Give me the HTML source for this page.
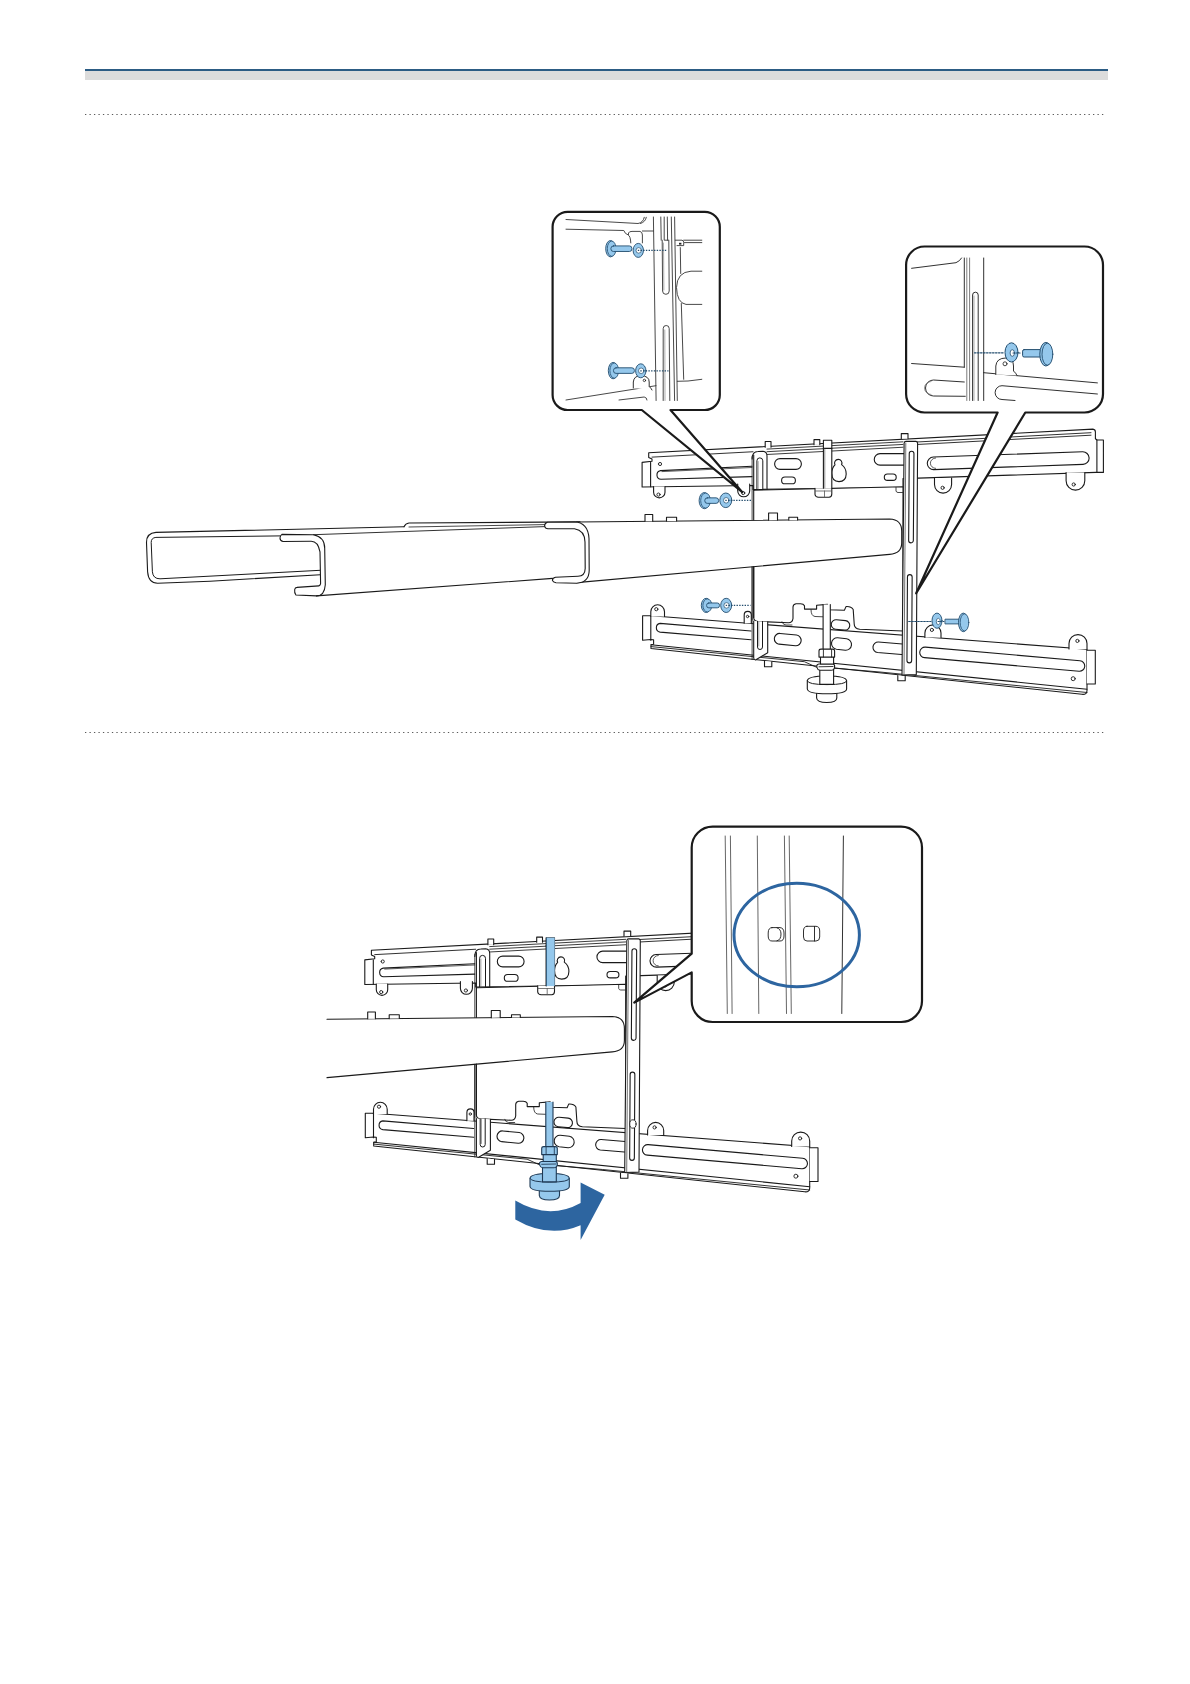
<!DOCTYPE html>
<html><head><meta charset="utf-8"><style>
html,body{margin:0;padding:0;background:#fff;}
body{width:1190px;height:1684px;position:relative;overflow:hidden;font-family:"Liberation Sans",sans-serif;}
.hb{position:absolute;left:85px;top:69px;width:1023px;height:2px;background:#2c5c84;}
.hg{position:absolute;left:85px;top:71px;width:1023px;height:9px;background:#dcdcdc;}
svg{position:absolute;left:0;top:0;}
</style></head><body>
<div class="hb"></div><div class="hg"></div>
<svg width="1190" height="1684" viewBox="0 0 1190 1684" stroke-linecap="round" stroke-linejoin="round">
<path d="M85,114.5 L1104,114.5 M85,732.5 L1104,732.5" stroke="#5a5a5a" stroke-width="1.2" stroke-dasharray="1.3,3.18" stroke-linecap="butt" fill="none"/>
<path d="M648.7,452.8 L1092.9,429.1 Q1095.4,429.5 1095.4,432 L1095.4,438.7 L1097,440 L1103.4,440 L1103.4,472.4 L1096,472.4 L903,478.6 L903,487.5 L753,489.5 L753,485.5 L642.1,487 L642.1,462.4 L652,461.3 L652,459 L648.7,457.5 Z" fill="#fff" stroke="#1a1a1a" stroke-width="1.1" />
<path d="M650.6,462.4 L650.6,486.8" fill="none" stroke="#1a1a1a" stroke-width="1.1" />
<path d="M1096.9,440 L1096.9,472.4" fill="none" stroke="#1a1a1a" stroke-width="1.1" />
<path d="M652,457.12 L753,451.74" fill="none" stroke="#1a1a1a" stroke-width="0.9" />
<path d="M767,449.09 L903,441.83 M767,451.69 L903,444.43 M767,454.49 L903,447.23" fill="none" stroke="#1a1a1a" stroke-width="0.85" />
<path d="M917,441.99 L1091,432.70 M917,444.49 L1091,435.20" fill="none" stroke="#1a1a1a" stroke-width="0.9" />
<path d="M765.2,447.2 L765.2,441.5 L771,441.5 L771,447.2" fill="#fff" stroke="#1a1a1a" stroke-width="1.1" />
<path d="M814,444.8 L814,439.6 L819.8,439.6 L819.8,444.8" fill="#fff" stroke="#1a1a1a" stroke-width="1.1" />
<path d="M901.3,438.6 L901.3,433.6 L908,433.6 L908,438.6" fill="#fff" stroke="#1a1a1a" stroke-width="1.1" />
<path d="M752,466.2 L660.5,470.6 A4.4,4.4 0 0 0 661,479.3 L752,476.6" fill="#fff" stroke="#1a1a1a" stroke-width="1.1" />
<path d="M752,467.5 L662,471.6" fill="none" stroke="#1a1a1a" stroke-width="0.7" />
<path d="M780.00,469.40 L796.00,469.40 A5.4,5.4 0 0 0 796.00,458.60 L780.00,458.60 A5.4,5.4 0 0 0 780.00,469.40 Z" fill="#fff" stroke="#1a1a1a" stroke-width="1.1" />
<path d="M785.00,483.80 L792.00,483.80 A3.4,3.4 0 0 0 792.00,477.00 L785.00,477.00 A3.4,3.4 0 0 0 785.00,483.80 Z" fill="#fff" stroke="#1a1a1a" stroke-width="1.1" />
<path d="M880.00,465.15 L904.00,465.15 A5.75,5.75 0 0 0 904.00,453.65 L880.00,453.65 A5.75,5.75 0 0 0 880.00,465.15 Z" fill="#fff" stroke="#1a1a1a" stroke-width="1.1" />
<path d="M887.50,480.40 L893.00,480.40 A3.2,3.2 0 0 0 893.00,474.00 L887.50,474.00 A3.2,3.2 0 0 0 887.50,480.40 Z" fill="#fff" stroke="#1a1a1a" stroke-width="1.1" />
<path d="M933.82,469.60 L1083.02,464.40 A6.3,6.3 0 0 0 1082.58,451.80 L933.38,457.00 A6.3,6.3 0 0 0 933.82,469.60 Z" fill="#fff" stroke="#1a1a1a" stroke-width="1.1" />
<path d="M935.6,458 A5.2,5.2 0 0 0 935.6,468.4" fill="none" stroke="#1a1a1a" stroke-width="0.7" />
<path d="M835,464.8 A3.7,3.7 0 1 1 841.6,464.6 Q846.3,468 846.2,474 Q846,481.6 839,481.6 Q831.8,481.6 831.8,473 Q832,467.5 835,464.8 Z" fill="#fff" stroke="#1a1a1a" stroke-width="1.1" />
<path d="M653.6,486.6 L653.6,492.2 A5.699999999999989,5.699999999999989 0 0 0 665,492.2 L665,486.6" fill="#fff" stroke="#1a1a1a" stroke-width="1.1" />
<ellipse cx="658.5" cy="494.6" rx="1.6" ry="1.6" fill="none" stroke="#1a1a1a" stroke-width="0.9"/>
<path d="M737.7,484 L737.7,490.8 A6.0,6.0 0 0 0 749.7,490.8 L749.7,484" fill="#fff" stroke="#1a1a1a" stroke-width="1.1" />
<ellipse cx="743.2" cy="493" rx="1.6" ry="1.6" fill="none" stroke="#1a1a1a" stroke-width="0.9"/>
<path d="M934.5,478 L934.5,484.55 A8.550000000000011,8.550000000000011 0 0 0 951.6,484.55 L951.6,478" fill="#fff" stroke="#1a1a1a" stroke-width="1.1" />
<ellipse cx="942.6" cy="487.8" rx="1.6" ry="1.6" fill="none" stroke="#1a1a1a" stroke-width="0.9"/>
<path d="M1066.1,472.6 L1066.1,480.75 A9.350000000000023,9.350000000000023 0 0 0 1084.8,480.75 L1084.8,472.6" fill="#fff" stroke="#1a1a1a" stroke-width="1.1" />
<ellipse cx="1073.7" cy="484.5" rx="1.6" ry="1.6" fill="none" stroke="#1a1a1a" stroke-width="0.9"/>
<path d="M660,464 m-1.6,0 a1.6,1.6 0 1 0 3.2,0 a1.6,1.6 0 1 0 -3.2,0" fill="none" stroke="#1a1a1a" stroke-width="0.9" />
<path d="M650.8,615.8 L1087,649.3 L1087,690.5 Q1087,694.8 1082,694.3 L651,648.5 L651,644.7 L653.6,644.2 L653.6,639.8 L650.8,639.5 L642.6,640.3 L642.6,615.8 Z" fill="#fff" stroke="#1a1a1a" stroke-width="1.1" />
<path d="M651,644.7 L1087,689.2" fill="none" stroke="#1a1a1a" stroke-width="1.1" />
<path d="M651,646.6 L804.4,661.7 L816.5,667.2 M834.6,668.2 L880,672 L1087,692.5" fill="none" stroke="#1a1a1a" stroke-width="0.9" />
<path d="M1087,650.3 L1095.3,650.3 L1095.3,684 L1087,684" fill="#fff" stroke="#1a1a1a" stroke-width="1.1" />
<path d="M650.8,615.8 L650.8,640.3" fill="none" stroke="#1a1a1a" stroke-width="1.1" />
<path d="M650.8,616.5 L650.8,611.65 A6.850000000000023,6.850000000000023 0 0 1 664.5,611.65 L664.5,616.5" fill="#fff" stroke="#1a1a1a" stroke-width="1.1" />
<ellipse cx="656.3" cy="609.2" rx="1.6" ry="1.6" fill="none" stroke="#1a1a1a" stroke-width="0.9"/>
<path d="M744.2,623.2 L744.2,614.9499999999999 A3.5499999999999545,3.5499999999999545 0 0 1 751.3,614.9499999999999 L751.3,623.2" fill="#fff" stroke="#1a1a1a" stroke-width="1.1" />
<ellipse cx="747.6" cy="616.5" rx="1.2" ry="1.2" fill="none" stroke="#1a1a1a" stroke-width="0.9"/>
<path d="M924.9,637.5 L924.9,632.95 A8.050000000000011,8.050000000000011 0 0 1 941,632.95 L941,637.5" fill="#fff" stroke="#1a1a1a" stroke-width="1.1" />
<ellipse cx="931.9" cy="629.9" rx="1.6" ry="1.6" fill="none" stroke="#1a1a1a" stroke-width="0.9"/>
<path d="M1069,649 L1069,643.6 A9.0,9.0 0 0 1 1087,643.6 L1087,649" fill="#fff" stroke="#1a1a1a" stroke-width="1.1" />
<ellipse cx="1077.4" cy="640.9" rx="1.6" ry="1.6" fill="none" stroke="#1a1a1a" stroke-width="0.9"/>
<path d="M764.5,661 L764.5,666.7 L771.8,666.7 L771.8,661.8" fill="#fff" stroke="#1a1a1a" stroke-width="1.1" />
<path d="M897.8,675.5 L897.8,680.8 L905.2,680.8 L905.2,676.2" fill="#fff" stroke="#1a1a1a" stroke-width="1.1" />
<path d="M751,631 L660.1,623.4 A4.4,4.4 0 0 0 660.1,632.1 L751,639.8" fill="#fff" stroke="#1a1a1a" stroke-width="1.1" />
<path d="M778.98,644.17 L795.48,645.77 A5.4,5.4 0 0 0 796.52,635.03 L780.02,633.43 A5.4,5.4 0 0 0 778.98,644.17 Z" fill="#fff" stroke="#1a1a1a" stroke-width="1.1" />
<path d="M836.37,649.21 L845.37,650.21 A5.75,5.75 0 0 0 846.63,638.79 L837.63,637.79 A5.75,5.75 0 0 0 836.37,649.21 Z" fill="#fff" stroke="#1a1a1a" stroke-width="1.1" />
<path d="M835.53,629.23 L844.53,630.13 A4.75,4.75 0 0 0 845.47,620.67 L836.47,619.77 A4.75,4.75 0 0 0 835.53,629.23 Z" fill="#fff" stroke="#1a1a1a" stroke-width="1.1" />
<path d="M877.59,652.53 L901.59,654.43 A5.25,5.25 0 0 0 902.41,643.97 L878.41,642.07 A5.25,5.25 0 0 0 877.59,652.53 Z" fill="#fff" stroke="#1a1a1a" stroke-width="1.1" />
<path d="M924.54,657.63 L1079.04,671.23 A5.25,5.25 0 0 0 1079.96,660.77 L925.46,647.17 A5.25,5.25 0 0 0 924.54,657.63 Z" fill="#fff" stroke="#1a1a1a" stroke-width="1.1" />
<ellipse cx="1073.2" cy="678.7" rx="2" ry="2" fill="none" stroke="#1a1a1a" stroke-width="0.9"/>
<path d="M753.7,490.2 L903,486.8 L903,631 L859.7,629.3 Q854.2,628.5 854.2,624 L853.2,609.5 Q851,606.2 846,606.6 L844.4,610.2 L828,609.7 L827.5,604.4 L816.6,605.3 L816.6,609.1 L804.5,609.1 L804.5,605.8 Q803.5,603.7 800.5,603.7 L796,603.7 Q793,604.2 793,607 L793,618.5 Q792.5,622.6 788.5,622.8 L757.5,621.4 Q753.7,621 753.7,617.5 Z" fill="#fff" stroke="#1a1a1a" stroke-width="1.1" />
<path d="M782,621.8 Q783,625 786,625 L792,625" fill="none" stroke="#1a1a1a" stroke-width="0.8" />
<path d="M811,609.7 Q811,616 815,616.5 L823,616.8" fill="none" stroke="#1a1a1a" stroke-width="0.8" />
<path d="M896,487.5 L896,491 Q896.5,492.5 898,492.5 L902.5,492.5" fill="none" stroke="#1a1a1a" stroke-width="0.8" />
<path d="M753.7,621 L753.7,658 Q754,660 755.5,660 L767.7,652.8 L767.7,621.8" fill="#fff" stroke="#1a1a1a" stroke-width="1.1" />
<path d="M752.1,459 Q752.1,451.5 758,451.5 L763,451.3 Q767,451.8 767,456 L767,489.2" fill="#fff" stroke="#1a1a1a" stroke-width="1.1" />
<path d="M753.7,455 L753.7,490.2" fill="none" stroke="#1a1a1a" stroke-width="1.1" />
<path d="M752.1,457 L752.1,659.5" fill="none" stroke="#1a1a1a" stroke-width="0.8" />
<path d="M756.9,489.1 L756.9,460.8 A2.95,2.95 0 0 1 762.8,460.8 L762.8,489.1" fill="none" stroke="#1a1a1a" stroke-width="1.0" />
<path d="M758.2,489.1 L758.2,461.5" fill="none" stroke="#666" stroke-width="0.6" />
<path d="M757.5,621.4 L757.5,647 A2.5,2.5 0 0 0 762.5,647 L762.5,621.4" fill="none" stroke="#1a1a1a" stroke-width="1.0" />
<path d="M758.8,621.4 L758.8,646" fill="none" stroke="#666" stroke-width="0.6" />
<path d="M902,675 L904.1,443.2 Q904.3,441.4 906,441.4 L916,441.4 Q917.6,441.6 917.6,443.2 L916.3,674.5 Z" fill="#fff" stroke="#1a1a1a" stroke-width="1.1" />
<path d="M905.8,443 L904,674.5" fill="none" stroke="#444" stroke-width="0.75" />
<path d="M909.25,453.58 L908.65,540.48 A2.35,2.35 0 0 0 913.35,540.52 L913.95,453.62 A2.35,2.35 0 0 0 909.25,453.58 Z" fill="#fff" stroke="#1a1a1a" stroke-width="1.1" />
<path d="M907.45,576.99 L906.95,660.49 A2.35,2.35 0 0 0 911.65,660.51 L912.15,577.01 A2.35,2.35 0 0 0 907.45,576.99 Z" fill="#fff" stroke="#1a1a1a" stroke-width="1.1" />
<path d="M823.4,448.4 L823.4,440.3 L831.8,440.3 L831.8,448.4" fill="#fff" stroke="#1a1a1a" stroke-width="1.1" />
<path d="M815,488.2 L815,494.5 Q815.5,497.2 818.5,497.2 L829,497.2 Q831.8,497 831.8,494 L831.8,488.2" fill="#fff" stroke="#1a1a1a" stroke-width="1.1" />
<path d="M824.5,491 L824.5,497.2 M815.5,491 L831.5,491" fill="none" stroke="#555" stroke-width="0.8" />
<path d="M823.4,488.2 L823.4,448.4 L831.8,448.4 L831.8,488.2" fill="#fff" stroke="#1a1a1a" stroke-width="1.1" />
<path d="M824.8,449 L824.8,488" fill="none" stroke="#666" stroke-width="0.7" />
<path d="M146.7,541 Q146.7,532.5 156,532.3 L404,526.8 L408.4,523 L576.6,522 L600,522 L600,582.5 L316.5,595.6 L298,594.8 Q295.5,594 295.5,592 L296,589 L157,583 Q148,583 147.5,575 Z" fill="#fff" stroke="#1a1a1a" stroke-width="0" />
<path d="M576.6,522.0 L889.6,519 Q901.7,519.5 901.7,531 L901.7,543 Q901.7,553.5 889.6,554.4 L576.6,582.6 Z" fill="#fff" stroke="#1a1a1a" stroke-width="0" />
<path d="M576.6,522.0 L889.6,519 Q901.7,519.5 901.7,531 L901.7,543 Q901.7,553.5 889.6,554.4 L576.6,582.6" fill="none" stroke="#1a1a1a" stroke-width="1.1" />
<path d="M752.1,566.8 L752.1,620" fill="none" stroke="#1a1a1a" stroke-width="0.8" />
<path d="M753.7,566.6 L753.7,617.5" fill="none" stroke="#1a1a1a" stroke-width="1.1" />
<path d="M645,521.3 L645,514.5 L652.7,514.5 L652.7,521.3" fill="#fff" stroke="#1a1a1a" stroke-width="1.1" />
<path d="M666.5,521.1 L666.5,517.3 L676.6,517.3 L676.6,521.0" fill="#fff" stroke="#1a1a1a" stroke-width="1.1" />
<path d="M768.6,520.2 L768.6,513 L777.5,513 L777.5,520.1" fill="#fff" stroke="#1a1a1a" stroke-width="1.1" />
<path d="M788.8,520.0 L788.8,517.3 L797.6,517.3 L797.6,519.9" fill="#fff" stroke="#1a1a1a" stroke-width="1.1" />
<path d="M404,526.8 L156,532.4 Q146.5,533 146.5,542.4 L147.6,571.8 Q148.5,583.2 157.6,583.2 L210,581.2 L320.3,574.7" fill="none" stroke="#1a1a1a" stroke-width="1.1" />
<path d="M280,535.9 L155.9,537.4 Q151.2,537.8 151.2,542.4 L152.4,571.8 Q153,578.8 160,578.8 L320.3,570.3" fill="none" stroke="#1a1a1a" stroke-width="1.0" />
<path d="M281.8,534.4 L313.5,534.7 Q324.7,537 324.7,548.2 L325.3,584.7 Q324.5,595.9 316.5,595.9 L295.9,595 Q294.2,593 294.7,589.5 Q295,587.4 297,587.4 L318.8,585.9 Q320.6,585 320.6,583.5 L320,551.8 Q318,541.2 311.2,541.2 L283,541.5 Q279.8,540.5 280,538 Q280.3,535 281.8,534.4 Z" fill="#fff" stroke="#1a1a1a" stroke-width="1.1" />
<path d="M313.5,534.7 L545,526.6" fill="none" stroke="#1a1a1a" stroke-width="0.9" />
<path d="M404,526.8 Q405.5,523.5 409,523 L580,521.9" fill="none" stroke="#1a1a1a" stroke-width="1.1" />
<path d="M409,527 L545,524.6" fill="none" stroke="#1a1a1a" stroke-width="0.8" />
<path d="M316.5,595.9 L552.6,578.4" fill="none" stroke="#1a1a1a" stroke-width="1.1" />
<path d="M547.5,522.2 Q544.5,523 544.6,526 Q545.2,528.8 548,528.8 L574.5,528.8 Q584.8,530.5 585,542 L585.2,568.4 Q585,576 578,576.2 L555.5,577.2 Q552.3,578 552.4,580.4 Q553,582.3 556,582.8 L576.6,583.2 Q589,582.5 589.2,570.5 L589,538.5 Q588,522.3 574.5,522 Z" fill="#fff" stroke="#1a1a1a" stroke-width="1.1" />
<path d="M823.1,604.5 L823.1,650 L830.3,650 L830.3,604.5" fill="#fff" stroke="#1a1a1a" stroke-width="1.1" />
<path d="M816.6,692 L816.6,698 Q817,702.5 826.7,702.5 Q836.8,702.5 836.8,698 L836.8,692 Z" fill="#fff" stroke="#1a1a1a" stroke-width="1.1" />
<path d="M807.3,681 L807.3,689 Q808,693.8 827,693.8 Q846.6,693.8 846.6,689 L846.6,681 Q846.6,676 827,676 Q807.3,676 807.3,681 Z" fill="#fff" stroke="#1a1a1a" stroke-width="1.1" />
<path d="M807.3,681 Q808,684.6 827,684.6 Q846.6,684.6 846.6,681" fill="none" stroke="#1a1a1a" stroke-width="0.9900000000000001" />
<path d="M819.8,668 L819.8,684.4 L833.6,684.4 L833.6,668 Z" fill="#fff" stroke="#1a1a1a" stroke-width="1.1" />
<path d="M817,667.5 Q816,664.5 819,664 L833,663.8 Q835,664.5 834.6,667 Q834.3,670.3 831,670.3 L820,670.3 Q817.5,670 817,667.5 Z" fill="#fff" stroke="#1a1a1a" stroke-width="1.1" />
<path d="M819,666.8 L833,666.5" fill="none" stroke="#1a1a1a" stroke-width="0.8800000000000001" />
<path d="M820.5,657.1 L820.5,664 L833.6,664 L833.6,657.1" fill="#fff" stroke="#1a1a1a" stroke-width="1.1" />
<path d="M819,651 Q819,649.1 821,649.1 L832.6,649.1 Q834.6,649.1 834.6,651 L834.6,657.1 L819,657.1 Z" fill="#fff" stroke="#1a1a1a" stroke-width="1.1" />
<path d="M823.4,649.5 L823.4,657 M831.6,649.5 L831.6,657" fill="none" stroke="#1a1a1a" stroke-width="0.8800000000000001" />
<path d="M567.6,211.8 L704.8,211.8 A15,15 0 0 1 719.8,226.8 L719.8,395 A15,15 0 0 1 704.8,410 L670.5,410 L742.3,492.2 L641.8,410 L567.6,410 A15,15 0 0 1 552.6,395 L552.6,226.8 A15,15 0 0 1 567.6,211.8 Z" fill="#fff" stroke="#1a1a1a" stroke-width="2.2" stroke-linejoin="round"/>
<path d="M566,219.5 L638,223.5 Q643,222.8 644.3,217.3 M640.5,223.5 Q645.5,222 646.3,217.3" fill="none" stroke="#333" stroke-width="0.9" />
<path d="M566,229.2 L623.8,230.5 Q625,234 628,234.8 Q630.5,236 630.8,242.9" fill="none" stroke="#333" stroke-width="0.9" />
<path d="M628.5,234.5 L628.5,233 Q629,231.4 632,231.4 L640,231.4 Q642.4,232 642.4,235 L642.4,242.9" fill="none" stroke="#333" stroke-width="0.9" />
<path d="M642.4,231 L653.4,231" fill="none" stroke="#333" stroke-width="0.9" />
<path d="M653.4,217 L656.1,400.5" fill="none" stroke="#333" stroke-width="0.9" />
<path d="M660.8,217 L661.2,240.2" fill="none" stroke="#333" stroke-width="0.9" />
<path d="M664.2,217 L664.2,240.2 L668.2,240.2" fill="none" stroke="#333" stroke-width="0.9" />
<path d="M667.3,217 L667.6,240.2" fill="none" stroke="#333" stroke-width="0.9" />
<path d="M671.3,217 L674.6,400.5" fill="none" stroke="#333" stroke-width="0.9" />
<path d="M674.6,217 L677.3,400.5" fill="none" stroke="#333" stroke-width="0.9" />
<path d="M662.2,240.2 L662.6,291 A3.3,3.3 0 0 0 669.2,291 L668.8,240.2" fill="none" stroke="#333" stroke-width="0.9" />
<path d="M663.2,400.5 L663.2,328.5 A3,3 0 0 1 669.2,328.5 L669.8,400.5" fill="#fff" stroke="#333" stroke-width="0.9" />
<path d="M665,400.5 L664.8,330" fill="none" stroke="#777" stroke-width="0.6" />
<path d="M663.5,243 L663.9,290" fill="none" stroke="#777" stroke-width="0.6" />
<path d="M675.3,240.2 L682,240.2 Q683.7,240.5 683.7,242.5 L683.7,245.6 L677,245.6 M683.7,240.2 L701.8,240.2 M684.5,242.6 L701.8,242.6" fill="none" stroke="#333" stroke-width="0.9" />
<rect x="679" y="242.8" width="2.4" height="1.8" fill="#222"/><path d="M701.8,271.2 L691,271.2 Q677,272 676.5,287.5 Q677,303 686,304.4 L701.8,304.4" fill="none" stroke="#333" stroke-width="0.9" />
<path d="M680.3,247.6 L680.7,273.5 M681.3,303.5 L683.7,379.3" fill="none" stroke="#333" stroke-width="0.9" />
<path d="M677.3,381.3 L688,381 L701.8,379.3" fill="none" stroke="#333" stroke-width="0.9" />
<path d="M566,400 L656,385.7 M619,400 L644.2,397 Q647,397.5 647,400" fill="none" stroke="#333" stroke-width="0.9" />
<path d="M633.3,388 L633.3,382 Q634,375.6 641,375.6 Q649.2,376 649.2,382 L649.2,386.5 Q651,388 652,390" fill="#fff" stroke="#1a1a1a" stroke-width="0.9" />
<ellipse cx="644.4" cy="380.4" rx="1.2" ry="1.2" fill="none" stroke="#1a1a1a" stroke-width="0.8"/>
<ellipse cx="610.5" cy="248.7" rx="4.8" ry="8.2" fill="#95c8ec" stroke="#234d6e" stroke-width="0.9"/>
<ellipse cx="611.6999999999999" cy="248.7" rx="4.3999999999999995" ry="7.6" fill="#95c8ec" stroke="#234d6e" stroke-width="0.8"/>
<rect x="610.90" y="245.91" width="21.00" height="5.58" rx="2.53" fill="#95c8ec" stroke="#234d6e" stroke-width="0.9"/>
<ellipse cx="638.3" cy="250.4" rx="5.2" ry="7.0" fill="#95c8ec" stroke="#234d6e" stroke-width="0.9"/>
<ellipse cx="638.6999999999999" cy="250.4" rx="2.7" ry="2.8" fill="#fff" stroke="#234d6e" stroke-width="0.7"/>
<path d="M637.8,250.4 L666.2,250.4" fill="none" stroke="#234d6e" stroke-width="1.3" stroke-dasharray="1.4,1.3" stroke-linecap="butt"/>
<ellipse cx="613.1" cy="370.6" rx="4.8" ry="8.2" fill="#95c8ec" stroke="#234d6e" stroke-width="0.9"/>
<ellipse cx="614.3" cy="370.6" rx="4.3999999999999995" ry="7.6" fill="#95c8ec" stroke="#234d6e" stroke-width="0.8"/>
<rect x="613.50" y="367.81" width="20.90" height="5.58" rx="2.53" fill="#95c8ec" stroke="#234d6e" stroke-width="0.9"/>
<ellipse cx="640.8" cy="370.8" rx="5.2" ry="7.0" fill="#95c8ec" stroke="#234d6e" stroke-width="0.9"/>
<ellipse cx="641.1999999999999" cy="370.8" rx="2.7" ry="2.8" fill="#fff" stroke="#234d6e" stroke-width="0.7"/>
<path d="M640.3,370.8 L668.5,370.8" fill="none" stroke="#234d6e" stroke-width="1.3" stroke-dasharray="1.4,1.3" stroke-linecap="butt"/>
<path d="M924.6,246.5 L1084.5,246.5 A18.5,18.5 0 0 1 1103,265.0 L1103,394.0 A18.5,18.5 0 0 1 1084.5,412.5 L1025.3,412.5 L916.2,593.3 L997.6,412.5 L924.6,412.5 A18.5,18.5 0 0 1 906.1,394.0 L906.1,265.0 A18.5,18.5 0 0 1 924.6,246.5 Z" fill="#fff" stroke="#1a1a1a" stroke-width="2.2" stroke-linejoin="round"/>
<path d="M911.6,268.3 L956,262.7 Q960,261 961.6,258" fill="none" stroke="#1a1a1a" stroke-width="0.9" />
<path d="M964.3,258 L964.3,367.2" fill="none" stroke="#1a1a1a" stroke-width="0.9" />
<path d="M966.8,258 L966.8,400.5 M969.6,258 L969.6,400.5" fill="none" stroke="#444" stroke-width="0.7" />
<path d="M983.7,258 L983.7,400.5" fill="none" stroke="#1a1a1a" stroke-width="0.9" />
<path d="M972.6,400.5 L972.6,295 A2.8,2.8 0 0 1 978.2,295 L978.2,400.5" fill="none" stroke="#1a1a1a" stroke-width="0.9" />
<path d="M974,400.5 L974,296" fill="none" stroke="#777" stroke-width="0.6" />
<path d="M911.6,363.5 L964.3,367.2" fill="none" stroke="#1a1a1a" stroke-width="0.9" />
<path d="M983.7,372.7 L1097.4,382.9" fill="none" stroke="#1a1a1a" stroke-width="0.9" />
<path d="M964.3,382 L933.5,380 A8,8 0 0 0 933.5,396 L965.3,396.3" fill="none" stroke="#1a1a1a" stroke-width="0.9" />
<path d="M931,381.5 A6.5,6.5 0 0 0 931,394.5" fill="none" stroke="#666" stroke-width="0.7" />
<path d="M1097.4,394 L1002,385.7 A6.9,6.9 0 0 0 1002,399.5 L1015,400.5" fill="none" stroke="#1a1a1a" stroke-width="0.9" />
<path d="M995.8,374.5 L995.8,366 Q996.5,358 1006,358 Q1013.5,358.5 1013.5,366 L1013.5,371 Q1016,373 1017,375.5" fill="#fff" stroke="#1a1a1a" stroke-width="0.9" />
<ellipse cx="1005" cy="363.8" rx="2" ry="2" fill="none" stroke="#1a1a1a" stroke-width="0.8"/>
<path d="M974.5,352.8 L1004,352.8" fill="none" stroke="#234d6e" stroke-width="1.2" stroke-dasharray="1.6,1.4"/>
<ellipse cx="1011.5" cy="352.4" rx="6.5" ry="9.6" fill="#95c8ec" stroke="#234d6e" stroke-width="1.0"/>
<ellipse cx="1012.3" cy="353" rx="2.2" ry="3.3" fill="#fff" stroke="#234d6e" stroke-width="0.8"/>
<path d="M1013,353 L1021,353" fill="none" stroke="#234d6e" stroke-width="1.1" stroke-dasharray="1.5,1.3"/>
<rect x="1022.6" y="349.6" width="19" height="7.4" rx="1.5" fill="#95c8ec" stroke="#234d6e" stroke-width="1"/>
<ellipse cx="1045.9" cy="354.2" rx="6.1" ry="11.8" fill="#95c8ec" stroke="#234d6e" stroke-width="1.0"/>
<ellipse cx="1047.4" cy="354.2" rx="5.4" ry="11.0" fill="#95c8ec" stroke="#234d6e" stroke-width="0.9"/>
<ellipse cx="704.4" cy="500.6" rx="5.3" ry="8.1" fill="#95c8ec" stroke="#234d6e" stroke-width="0.9"/>
<ellipse cx="705.5999999999999" cy="500.6" rx="4.8999999999999995" ry="7.5" fill="#95c8ec" stroke="#234d6e" stroke-width="0.8"/>
<rect x="704.80" y="497.85" width="13.80" height="5.51" rx="2.50" fill="#95c8ec" stroke="#234d6e" stroke-width="0.9"/>
<ellipse cx="725.8" cy="500.3" rx="6" ry="7.3" fill="#95c8ec" stroke="#234d6e" stroke-width="0.9"/>
<ellipse cx="726.1999999999999" cy="500.3" rx="2.7" ry="2.8" fill="#fff" stroke="#234d6e" stroke-width="0.7"/>
<path d="M725.3,500.3 L751,500.3" fill="none" stroke="#234d6e" stroke-width="1.3" stroke-dasharray="1.4,1.3" stroke-linecap="butt"/>
<ellipse cx="706.2" cy="605.4" rx="4.9" ry="7.1" fill="#95c8ec" stroke="#234d6e" stroke-width="0.9"/>
<ellipse cx="707.4" cy="605.4" rx="4.5" ry="6.5" fill="#95c8ec" stroke="#234d6e" stroke-width="0.8"/>
<rect x="706.60" y="602.99" width="12.90" height="4.83" rx="2.19" fill="#95c8ec" stroke="#234d6e" stroke-width="0.9"/>
<ellipse cx="726.2" cy="605.4" rx="5.5" ry="7.1" fill="#95c8ec" stroke="#234d6e" stroke-width="0.9"/>
<ellipse cx="726.6" cy="605.4" rx="2.7" ry="2.8" fill="#fff" stroke="#234d6e" stroke-width="0.7"/>
<path d="M725.7,605.4 L750.5,605.4" fill="none" stroke="#234d6e" stroke-width="1.3" stroke-dasharray="1.4,1.3" stroke-linecap="butt"/>
<path d="M908.7,621.5 L931,621.5" fill="none" stroke="#234d6e" stroke-width="1.2" stroke-dasharray="1.6,1.4"/>
<ellipse cx="937" cy="620.7" rx="5" ry="7.6" fill="#95c8ec" stroke="#234d6e" stroke-width="0.9"/>
<ellipse cx="938.3" cy="621.5" rx="2" ry="3.2" fill="#fff" stroke="#234d6e" stroke-width="0.7"/>
<path d="M938,621.5 L944,621.5" fill="none" stroke="#234d6e" stroke-width="1.0" stroke-dasharray="1.4,1.2"/>
<rect x="945.4" y="619.2" width="14" height="4.7" fill="#95c8ec" stroke="#234d6e" stroke-width="0.9"/>
<ellipse cx="963.3" cy="622.4" rx="4.8" ry="9.3" fill="#95c8ec" stroke="#234d6e" stroke-width="0.9"/>
<ellipse cx="964.5" cy="622.4" rx="4.3" ry="8.6" fill="#95c8ec" stroke="#234d6e" stroke-width="0.8"/>
<g transform="translate(-277.3,497.5)">
<path d="M648.7,452.8 L1092.9,429.1 Q1095.4,429.5 1095.4,432 L1095.4,438.7 L1097,440 L1103.4,440 L1103.4,472.4 L1096,472.4 L903,478.6 L903,487.5 L753,489.5 L753,485.5 L642.1,487 L642.1,462.4 L652,461.3 L652,459 L648.7,457.5 Z" fill="#fff" stroke="#1a1a1a" stroke-width="1.1" />
<path d="M650.6,462.4 L650.6,486.8" fill="none" stroke="#1a1a1a" stroke-width="1.1" />
<path d="M1096.9,440 L1096.9,472.4" fill="none" stroke="#1a1a1a" stroke-width="1.1" />
<path d="M652,457.12 L753,451.74" fill="none" stroke="#1a1a1a" stroke-width="0.9" />
<path d="M767,449.09 L903,441.83 M767,451.69 L903,444.43 M767,454.49 L903,447.23" fill="none" stroke="#1a1a1a" stroke-width="0.85" />
<path d="M917,441.99 L1091,432.70 M917,444.49 L1091,435.20" fill="none" stroke="#1a1a1a" stroke-width="0.9" />
<path d="M765.2,447.2 L765.2,441.5 L771,441.5 L771,447.2" fill="#fff" stroke="#1a1a1a" stroke-width="1.1" />
<path d="M814,444.8 L814,439.6 L819.8,439.6 L819.8,444.8" fill="#fff" stroke="#1a1a1a" stroke-width="1.1" />
<path d="M901.3,438.6 L901.3,433.6 L908,433.6 L908,438.6" fill="#fff" stroke="#1a1a1a" stroke-width="1.1" />
<path d="M752,466.2 L660.5,470.6 A4.4,4.4 0 0 0 661,479.3 L752,476.6" fill="#fff" stroke="#1a1a1a" stroke-width="1.1" />
<path d="M752,467.5 L662,471.6" fill="none" stroke="#1a1a1a" stroke-width="0.7" />
<path d="M780.00,469.40 L796.00,469.40 A5.4,5.4 0 0 0 796.00,458.60 L780.00,458.60 A5.4,5.4 0 0 0 780.00,469.40 Z" fill="#fff" stroke="#1a1a1a" stroke-width="1.1" />
<path d="M785.00,483.80 L792.00,483.80 A3.4,3.4 0 0 0 792.00,477.00 L785.00,477.00 A3.4,3.4 0 0 0 785.00,483.80 Z" fill="#fff" stroke="#1a1a1a" stroke-width="1.1" />
<path d="M880.00,465.15 L904.00,465.15 A5.75,5.75 0 0 0 904.00,453.65 L880.00,453.65 A5.75,5.75 0 0 0 880.00,465.15 Z" fill="#fff" stroke="#1a1a1a" stroke-width="1.1" />
<path d="M887.50,480.40 L893.00,480.40 A3.2,3.2 0 0 0 893.00,474.00 L887.50,474.00 A3.2,3.2 0 0 0 887.50,480.40 Z" fill="#fff" stroke="#1a1a1a" stroke-width="1.1" />
<path d="M933.82,469.60 L1083.02,464.40 A6.3,6.3 0 0 0 1082.58,451.80 L933.38,457.00 A6.3,6.3 0 0 0 933.82,469.60 Z" fill="#fff" stroke="#1a1a1a" stroke-width="1.1" />
<path d="M935.6,458 A5.2,5.2 0 0 0 935.6,468.4" fill="none" stroke="#1a1a1a" stroke-width="0.7" />
<path d="M835,464.8 A3.7,3.7 0 1 1 841.6,464.6 Q846.3,468 846.2,474 Q846,481.6 839,481.6 Q831.8,481.6 831.8,473 Q832,467.5 835,464.8 Z" fill="#fff" stroke="#1a1a1a" stroke-width="1.1" />
<path d="M653.6,486.6 L653.6,492.2 A5.699999999999989,5.699999999999989 0 0 0 665,492.2 L665,486.6" fill="#fff" stroke="#1a1a1a" stroke-width="1.1" />
<ellipse cx="658.5" cy="494.6" rx="1.6" ry="1.6" fill="none" stroke="#1a1a1a" stroke-width="0.9"/>
<path d="M737.7,484 L737.7,490.8 A6.0,6.0 0 0 0 749.7,490.8 L749.7,484" fill="#fff" stroke="#1a1a1a" stroke-width="1.1" />
<ellipse cx="743.2" cy="493" rx="1.6" ry="1.6" fill="none" stroke="#1a1a1a" stroke-width="0.9"/>
<path d="M934.5,478 L934.5,484.55 A8.550000000000011,8.550000000000011 0 0 0 951.6,484.55 L951.6,478" fill="#fff" stroke="#1a1a1a" stroke-width="1.1" />
<ellipse cx="942.6" cy="487.8" rx="1.6" ry="1.6" fill="none" stroke="#1a1a1a" stroke-width="0.9"/>
<path d="M1066.1,472.6 L1066.1,480.75 A9.350000000000023,9.350000000000023 0 0 0 1084.8,480.75 L1084.8,472.6" fill="#fff" stroke="#1a1a1a" stroke-width="1.1" />
<ellipse cx="1073.7" cy="484.5" rx="1.6" ry="1.6" fill="none" stroke="#1a1a1a" stroke-width="0.9"/>
<path d="M660,464 m-1.6,0 a1.6,1.6 0 1 0 3.2,0 a1.6,1.6 0 1 0 -3.2,0" fill="none" stroke="#1a1a1a" stroke-width="0.9" />
<path d="M650.8,615.8 L1087,649.3 L1087,690.5 Q1087,694.8 1082,694.3 L651,648.5 L651,644.7 L653.6,644.2 L653.6,639.8 L650.8,639.5 L642.6,640.3 L642.6,615.8 Z" fill="#fff" stroke="#1a1a1a" stroke-width="1.1" />
<path d="M651,644.7 L1087,689.2" fill="none" stroke="#1a1a1a" stroke-width="1.1" />
<path d="M651,646.6 L804.4,661.7 L816.5,667.2 M834.6,668.2 L880,672 L1087,692.5" fill="none" stroke="#1a1a1a" stroke-width="0.9" />
<path d="M1087,650.3 L1095.3,650.3 L1095.3,684 L1087,684" fill="#fff" stroke="#1a1a1a" stroke-width="1.1" />
<path d="M650.8,615.8 L650.8,640.3" fill="none" stroke="#1a1a1a" stroke-width="1.1" />
<path d="M650.8,616.5 L650.8,611.65 A6.850000000000023,6.850000000000023 0 0 1 664.5,611.65 L664.5,616.5" fill="#fff" stroke="#1a1a1a" stroke-width="1.1" />
<ellipse cx="656.3" cy="609.2" rx="1.6" ry="1.6" fill="none" stroke="#1a1a1a" stroke-width="0.9"/>
<path d="M744.2,623.2 L744.2,614.9499999999999 A3.5499999999999545,3.5499999999999545 0 0 1 751.3,614.9499999999999 L751.3,623.2" fill="#fff" stroke="#1a1a1a" stroke-width="1.1" />
<ellipse cx="747.6" cy="616.5" rx="1.2" ry="1.2" fill="none" stroke="#1a1a1a" stroke-width="0.9"/>
<path d="M924.9,637.5 L924.9,632.95 A8.050000000000011,8.050000000000011 0 0 1 941,632.95 L941,637.5" fill="#fff" stroke="#1a1a1a" stroke-width="1.1" />
<ellipse cx="931.9" cy="629.9" rx="1.6" ry="1.6" fill="none" stroke="#1a1a1a" stroke-width="0.9"/>
<path d="M1069,649 L1069,643.6 A9.0,9.0 0 0 1 1087,643.6 L1087,649" fill="#fff" stroke="#1a1a1a" stroke-width="1.1" />
<ellipse cx="1077.4" cy="640.9" rx="1.6" ry="1.6" fill="none" stroke="#1a1a1a" stroke-width="0.9"/>
<path d="M764.5,661 L764.5,666.7 L771.8,666.7 L771.8,661.8" fill="#fff" stroke="#1a1a1a" stroke-width="1.1" />
<path d="M897.8,675.5 L897.8,680.8 L905.2,680.8 L905.2,676.2" fill="#fff" stroke="#1a1a1a" stroke-width="1.1" />
<path d="M751,631 L660.1,623.4 A4.4,4.4 0 0 0 660.1,632.1 L751,639.8" fill="#fff" stroke="#1a1a1a" stroke-width="1.1" />
<path d="M778.98,644.17 L795.48,645.77 A5.4,5.4 0 0 0 796.52,635.03 L780.02,633.43 A5.4,5.4 0 0 0 778.98,644.17 Z" fill="#fff" stroke="#1a1a1a" stroke-width="1.1" />
<path d="M836.37,649.21 L845.37,650.21 A5.75,5.75 0 0 0 846.63,638.79 L837.63,637.79 A5.75,5.75 0 0 0 836.37,649.21 Z" fill="#fff" stroke="#1a1a1a" stroke-width="1.1" />
<path d="M835.53,629.23 L844.53,630.13 A4.75,4.75 0 0 0 845.47,620.67 L836.47,619.77 A4.75,4.75 0 0 0 835.53,629.23 Z" fill="#fff" stroke="#1a1a1a" stroke-width="1.1" />
<path d="M877.59,652.53 L901.59,654.43 A5.25,5.25 0 0 0 902.41,643.97 L878.41,642.07 A5.25,5.25 0 0 0 877.59,652.53 Z" fill="#fff" stroke="#1a1a1a" stroke-width="1.1" />
<path d="M924.54,657.63 L1079.04,671.23 A5.25,5.25 0 0 0 1079.96,660.77 L925.46,647.17 A5.25,5.25 0 0 0 924.54,657.63 Z" fill="#fff" stroke="#1a1a1a" stroke-width="1.1" />
<ellipse cx="1073.2" cy="678.7" rx="2" ry="2" fill="none" stroke="#1a1a1a" stroke-width="0.9"/>
<path d="M753.7,490.2 L903,486.8 L903,631 L859.7,629.3 Q854.2,628.5 854.2,624 L853.2,609.5 Q851,606.2 846,606.6 L844.4,610.2 L828,609.7 L827.5,604.4 L816.6,605.3 L816.6,609.1 L804.5,609.1 L804.5,605.8 Q803.5,603.7 800.5,603.7 L796,603.7 Q793,604.2 793,607 L793,618.5 Q792.5,622.6 788.5,622.8 L757.5,621.4 Q753.7,621 753.7,617.5 Z" fill="#fff" stroke="#1a1a1a" stroke-width="1.1" />
<path d="M782,621.8 Q783,625 786,625 L792,625" fill="none" stroke="#1a1a1a" stroke-width="0.8" />
<path d="M811,609.7 Q811,616 815,616.5 L823,616.8" fill="none" stroke="#1a1a1a" stroke-width="0.8" />
<path d="M896,487.5 L896,491 Q896.5,492.5 898,492.5 L902.5,492.5" fill="none" stroke="#1a1a1a" stroke-width="0.8" />
<path d="M753.7,621 L753.7,658 Q754,660 755.5,660 L767.7,652.8 L767.7,621.8" fill="#fff" stroke="#1a1a1a" stroke-width="1.1" />
<path d="M752.1,459 Q752.1,451.5 758,451.5 L763,451.3 Q767,451.8 767,456 L767,489.2" fill="#fff" stroke="#1a1a1a" stroke-width="1.1" />
<path d="M753.7,455 L753.7,490.2" fill="none" stroke="#1a1a1a" stroke-width="1.1" />
<path d="M752.1,457 L752.1,659.5" fill="none" stroke="#1a1a1a" stroke-width="0.8" />
<path d="M756.9,489.1 L756.9,460.8 A2.95,2.95 0 0 1 762.8,460.8 L762.8,489.1" fill="none" stroke="#1a1a1a" stroke-width="1.0" />
<path d="M758.2,489.1 L758.2,461.5" fill="none" stroke="#666" stroke-width="0.6" />
<path d="M757.5,621.4 L757.5,647 A2.5,2.5 0 0 0 762.5,647 L762.5,621.4" fill="none" stroke="#1a1a1a" stroke-width="1.0" />
<path d="M758.8,621.4 L758.8,646" fill="none" stroke="#666" stroke-width="0.6" />
<path d="M902,675 L904.1,443.2 Q904.3,441.4 906,441.4 L916,441.4 Q917.6,441.6 917.6,443.2 L916.3,674.5 Z" fill="#fff" stroke="#1a1a1a" stroke-width="1.1" />
<path d="M905.8,443 L904,674.5" fill="none" stroke="#444" stroke-width="0.75" />
<path d="M909.25,453.58 L908.65,540.48 A2.35,2.35 0 0 0 913.35,540.52 L913.95,453.62 A2.35,2.35 0 0 0 909.25,453.58 Z" fill="#fff" stroke="#1a1a1a" stroke-width="1.1" />
<path d="M907.45,576.99 L906.95,660.49 A2.35,2.35 0 0 0 911.65,660.51 L912.15,577.01 A2.35,2.35 0 0 0 907.45,576.99 Z" fill="#fff" stroke="#1a1a1a" stroke-width="1.1" />
<path d="M823.4,448.4 L823.4,440.3 L831.8,440.3 L831.8,448.4" fill="#fff" stroke="#1a1a1a" stroke-width="1.1" />
<path d="M815,488.2 L815,494.5 Q815.5,497.2 818.5,497.2 L829,497.2 Q831.8,497 831.8,494 L831.8,488.2" fill="#fff" stroke="#1a1a1a" stroke-width="1.1" />
<path d="M824.5,491 L824.5,497.2 M815.5,491 L831.5,491" fill="none" stroke="#555" stroke-width="0.8" />
<path d="M823.4,488.2 L823.4,448.4 L831.8,448.4 L831.8,488.2" fill="#fff" stroke="#1a1a1a" stroke-width="1.1" />
<path d="M824.8,449 L824.8,488" fill="none" stroke="#666" stroke-width="0.7" />
<path d="M604.3,521.7 L889.6,519 Q901.7,519.5 901.7,531 L901.7,543 Q901.7,553.5 889.6,554.4 L604.3,580.1 Z" fill="#fff" stroke="#1a1a1a" stroke-width="0" />
<path d="M604.3,521.7 L889.6,519 Q901.7,519.5 901.7,531 L901.7,543 Q901.7,553.5 889.6,554.4 L604.3,580.1" fill="none" stroke="#1a1a1a" stroke-width="1.1" />
<path d="M752.1,566.8 L752.1,620" fill="none" stroke="#1a1a1a" stroke-width="0.8" />
<path d="M753.7,566.6 L753.7,617.5" fill="none" stroke="#1a1a1a" stroke-width="1.1" />
<path d="M645,521.3 L645,514.5 L652.7,514.5 L652.7,521.3" fill="#fff" stroke="#1a1a1a" stroke-width="1.1" />
<path d="M666.5,521.1 L666.5,517.3 L676.6,517.3 L676.6,521.0" fill="#fff" stroke="#1a1a1a" stroke-width="1.1" />
<path d="M768.6,520.2 L768.6,513 L777.5,513 L777.5,520.1" fill="#fff" stroke="#1a1a1a" stroke-width="1.1" />
<path d="M788.8,520.0 L788.8,517.3 L797.6,517.3 L797.6,519.9" fill="#fff" stroke="#1a1a1a" stroke-width="1.1" />
<path d="M823.1,604.5 L823.1,650 L830.3,650 L830.3,604.5" fill="#95c8ec" stroke="#1f3a55" stroke-width="1.1" />
<path d="M816.6,692 L816.6,698 Q817,702.5 826.7,702.5 Q836.8,702.5 836.8,698 L836.8,692 Z" fill="#95c8ec" stroke="#1f3a55" stroke-width="1.1" />
<path d="M807.3,681 L807.3,689 Q808,693.8 827,693.8 Q846.6,693.8 846.6,689 L846.6,681 Q846.6,676 827,676 Q807.3,676 807.3,681 Z" fill="#95c8ec" stroke="#1f3a55" stroke-width="1.1" />
<path d="M807.3,681 Q808,684.6 827,684.6 Q846.6,684.6 846.6,681" fill="none" stroke="#1f3a55" stroke-width="0.9900000000000001" />
<path d="M819.8,668 L819.8,684.4 L833.6,684.4 L833.6,668 Z" fill="#95c8ec" stroke="#1f3a55" stroke-width="1.1" />
<path d="M817,667.5 Q816,664.5 819,664 L833,663.8 Q835,664.5 834.6,667 Q834.3,670.3 831,670.3 L820,670.3 Q817.5,670 817,667.5 Z" fill="#95c8ec" stroke="#1f3a55" stroke-width="1.1" />
<path d="M819,666.8 L833,666.5" fill="none" stroke="#1f3a55" stroke-width="0.8800000000000001" />
<path d="M820.5,657.1 L820.5,664 L833.6,664 L833.6,657.1" fill="#95c8ec" stroke="#1f3a55" stroke-width="1.1" />
<path d="M819,651 Q819,649.1 821,649.1 L832.6,649.1 Q834.6,649.1 834.6,651 L834.6,657.1 L819,657.1 Z" fill="#95c8ec" stroke="#1f3a55" stroke-width="1.1" />
<path d="M823.4,649.5 L823.4,657 M831.6,649.5 L831.6,657" fill="none" stroke="#1f3a55" stroke-width="0.8800000000000001" />
<path d="M823.6,440.1 L823.6,488.6 L832,488.6 L832,440.1 Z" fill="#95c8ec" stroke="none" stroke-width="0" />
<path d="M823.8,440.5 L823.8,488.4" fill="none" stroke="#234d6e" stroke-width="0.8" />
<ellipse cx="910.2" cy="626.5" rx="3.2" ry="4.2" fill="#fff" stroke="#1a1a1a" stroke-width="0.9"/>
</g>
<path d="M712.7,826.6 L901,826.6 A21,21 0 0 1 922,847.6 L922,1001 A21,21 0 0 1 901,1022 L712.7,1022 A21,21 0 0 1 691.7,1001 L691.7,972.4 L634.3,1002.6 L691.7,953.7 L691.7,847.6 A21,21 0 0 1 712.7,826.6 Z" fill="#fff" stroke="#1a1a1a" stroke-width="2.2" stroke-linejoin="round"/>
<path d="M725.2,836 L727.3,1013.5" fill="none" stroke="#555" stroke-width="0.9" />
<path d="M730.4,836 L732.1,1013.5" fill="none" stroke="#555" stroke-width="0.9" />
<path d="M757.3,836 L758.8,1013.5" fill="none" stroke="#555" stroke-width="0.9" />
<path d="M784.4,836 L786.5,1013.5" fill="none" stroke="#555" stroke-width="0.9" />
<path d="M789.2,836 L791.3,1013.5" fill="none" stroke="#555" stroke-width="0.9" />
<path d="M843.4,836 L841.8,1013.5" fill="none" stroke="#333" stroke-width="1.0" />
<ellipse cx="796.7" cy="935" rx="62.7" ry="51.8" fill="none" stroke="#2d65a0" stroke-width="3"/>
<path d="M772,927.6 L780,927.6 Q784,928 784,933 L784,936 Q784,941 780,941 L772,941 Q768.2,941 768.2,936 L768.2,933 Q768.2,927.6 772,927.6 Z M777,927.8 Q781,929 781,934 Q781,940 777,940.8" fill="none" stroke="#1a1a1a" stroke-width="0.9" />
<path d="M807,926.3 L816,926.3 Q819.7,926.5 819.7,931 L819.7,937 Q819.7,941 816,941 L807,941 Q803.5,941 803.5,937 L803.5,931 Q803.5,926.3 807,926.3 Z M814.5,926.5 L814.5,941" fill="none" stroke="#1a1a1a" stroke-width="0.9" />
<path d="M515.3,1200.6 Q548.8,1220.6 580.6,1203 L580.6,1182.4 L604.7,1194.7 L580.6,1240 L580.6,1225.3 Q548.8,1238.8 515.3,1219.4 Z" fill="#2d65a0" stroke="none" stroke-width="0" />

</svg>
</body></html>
